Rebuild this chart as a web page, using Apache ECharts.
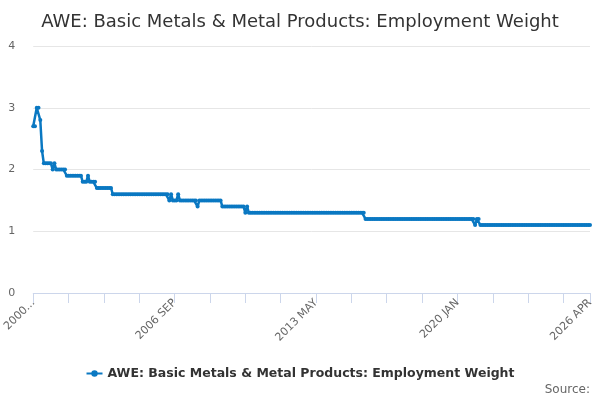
<!DOCTYPE html>
<html>
<head>
<meta charset="utf-8">
<title>AWE: Basic Metals & Metal Products: Employment Weight</title>
<script src="https://cdn.jsdelivr.net/npm/echarts@6/dist/echarts.min.js"></script>
<style>
  html, body { margin: 0; padding: 0; background: #fff; }
  #chart { width: 600px; height: 400px; }
</style>
</head>
<body>
<div id="chart"></div>
<script>
const monthNames = ['JAN', 'FEB', 'MAR', 'APR', 'MAY', 'JUN', 'JUL', 'AUG', 'SEP', 'OCT', 'NOV', 'DEC'];

// 2000 JAN .. 2026 APR, monthly
const categories = [];
for (let y = 2000; y <= 2026; y++) {
  for (let m = 0; m < 12; m++) {
    if (y === 2026 && m > 3) break;
    categories.push(y + ' ' + monthNames[m]);
  }
}

// one row per year
const weights = [
  2.7, 2.7, 3.0, 3.0, 2.8, 2.3, 2.1, 2.1, 2.1, 2.1, 2.1, 2.0, // 2000
  2.1, 2.0, 2.0, 2.0, 2.0, 2.0, 2.0, 1.9, 1.9, 1.9, 1.9, 1.9, // 2001
  1.9, 1.9, 1.9, 1.9, 1.8, 1.8, 1.8, 1.9, 1.8, 1.8, 1.8, 1.8, // 2002
  1.7, 1.7, 1.7, 1.7, 1.7, 1.7, 1.7, 1.7, 1.7, 1.6, 1.6, 1.6, // 2003
  1.6, 1.6, 1.6, 1.6, 1.6, 1.6, 1.6, 1.6, 1.6, 1.6, 1.6, 1.6, // 2004
  1.6, 1.6, 1.6, 1.6, 1.6, 1.6, 1.6, 1.6, 1.6, 1.6, 1.6, 1.6, // 2005
  1.6, 1.6, 1.6, 1.6, 1.6, 1.5, 1.6, 1.5, 1.5, 1.5, 1.6, 1.5, // 2006
  1.5, 1.5, 1.5, 1.5, 1.5, 1.5, 1.5, 1.5, 1.5, 1.4, 1.5, 1.5, // 2007
  1.5, 1.5, 1.5, 1.5, 1.5, 1.5, 1.5, 1.5, 1.5, 1.5, 1.5, 1.4, // 2008
  1.4, 1.4, 1.4, 1.4, 1.4, 1.4, 1.4, 1.4, 1.4, 1.4, 1.4, 1.4, // 2009
  1.3, 1.4, 1.3, 1.3, 1.3, 1.3, 1.3, 1.3, 1.3, 1.3, 1.3, 1.3, // 2010
  1.3, 1.3, 1.3, 1.3, 1.3, 1.3, 1.3, 1.3, 1.3, 1.3, 1.3, 1.3, // 2011
  1.3, 1.3, 1.3, 1.3, 1.3, 1.3, 1.3, 1.3, 1.3, 1.3, 1.3, 1.3, // 2012
  1.3, 1.3, 1.3, 1.3, 1.3, 1.3, 1.3, 1.3, 1.3, 1.3, 1.3, 1.3, // 2013
  1.3, 1.3, 1.3, 1.3, 1.3, 1.3, 1.3, 1.3, 1.3, 1.3, 1.3, 1.3, // 2014
  1.3, 1.3, 1.3, 1.3, 1.3, 1.3, 1.3, 1.3, 1.2, 1.2, 1.2, 1.2, // 2015
  1.2, 1.2, 1.2, 1.2, 1.2, 1.2, 1.2, 1.2, 1.2, 1.2, 1.2, 1.2, // 2016
  1.2, 1.2, 1.2, 1.2, 1.2, 1.2, 1.2, 1.2, 1.2, 1.2, 1.2, 1.2, // 2017
  1.2, 1.2, 1.2, 1.2, 1.2, 1.2, 1.2, 1.2, 1.2, 1.2, 1.2, 1.2, // 2018
  1.2, 1.2, 1.2, 1.2, 1.2, 1.2, 1.2, 1.2, 1.2, 1.2, 1.2, 1.2, // 2019
  1.2, 1.2, 1.2, 1.2, 1.2, 1.2, 1.2, 1.2, 1.2, 1.2, 1.1, 1.2, // 2020
  1.2, 1.1, 1.1, 1.1, 1.1, 1.1, 1.1, 1.1, 1.1, 1.1, 1.1, 1.1, // 2021
  1.1, 1.1, 1.1, 1.1, 1.1, 1.1, 1.1, 1.1, 1.1, 1.1, 1.1, 1.1, // 2022
  1.1, 1.1, 1.1, 1.1, 1.1, 1.1, 1.1, 1.1, 1.1, 1.1, 1.1, 1.1, // 2023
  1.1, 1.1, 1.1, 1.1, 1.1, 1.1, 1.1, 1.1, 1.1, 1.1, 1.1, 1.1, // 2024
  1.1, 1.1, 1.1, 1.1, 1.1, 1.1, 1.1, 1.1, 1.1, 1.1, 1.1, 1.1, // 2025
  1.1, 1.1, 1.1, 1.1                                          // 2026
];

const seriesName = 'AWE: Basic Metals & Metal Products: Employment Weight';
const lastIndex = categories.length - 1;

const chart = echarts.init(document.getElementById('chart'));

const option = {
  animation: false,
  textStyle: { fontFamily: 'DejaVu Sans' },
  title: {
    text: seriesName,
    left: 'center',
    top: 8,
    textStyle: { fontSize: 18, fontWeight: 'normal', color: '#333333' }
  },
  legend: {
    bottom: 15,
    left: 'center',
    itemWidth: 16,
    itemHeight: 8,
    textStyle: { fontSize: 12.5, fontWeight: 'bold', color: '#333333' },
    data: [seriesName]
  },
  graphic: [{
    type: 'text',
    right: 10,
    bottom: 4,
    style: { text: 'Source:', fill: '#666666', fontSize: 12, fontFamily: 'DejaVu Sans' }
  }],
  grid: { left: 33, right: 10, top: 46, bottom: 107 },
  xAxis: {
    type: 'category',
    data: categories,
    boundaryGap: false,
    axisLine: { lineStyle: { color: '#ccd6eb' } },
    axisTick: {
      length: 10,
      lineStyle: { color: '#ccd6eb' },
      interval: (index) => index % 20 === 0 || index === lastIndex
    },
    axisLabel: {
      rotate: 45,
      color: '#666666',
      fontSize: 11,
      margin: 8,
      interval: (index) => index % 80 === 0 || index === lastIndex,
      formatter: (value, index) => (index === 0 ? value.slice(0, 4) + '...' : value)
    },
    splitLine: { show: false }
  },
  yAxis: {
    type: 'value',
    min: 0,
    max: 4,
    interval: 1,
    axisLine: { show: false },
    axisTick: { show: false },
    axisLabel: { color: '#666666', fontSize: 11, margin: 18 },
    splitLine: { lineStyle: { color: '#e6e6e6' } }
  },
  series: [{
    name: seriesName,
    type: 'line',
    data: weights,
    symbol: 'circle',
    symbolSize: 4,
    showAllSymbol: true,
    color: '#0a78c2',
    lineStyle: { width: 2.5, color: '#0a78c2' },
    itemStyle: { color: '#0a78c2' }
  }]
};

chart.setOption(option);
</script>
</body>
</html>
